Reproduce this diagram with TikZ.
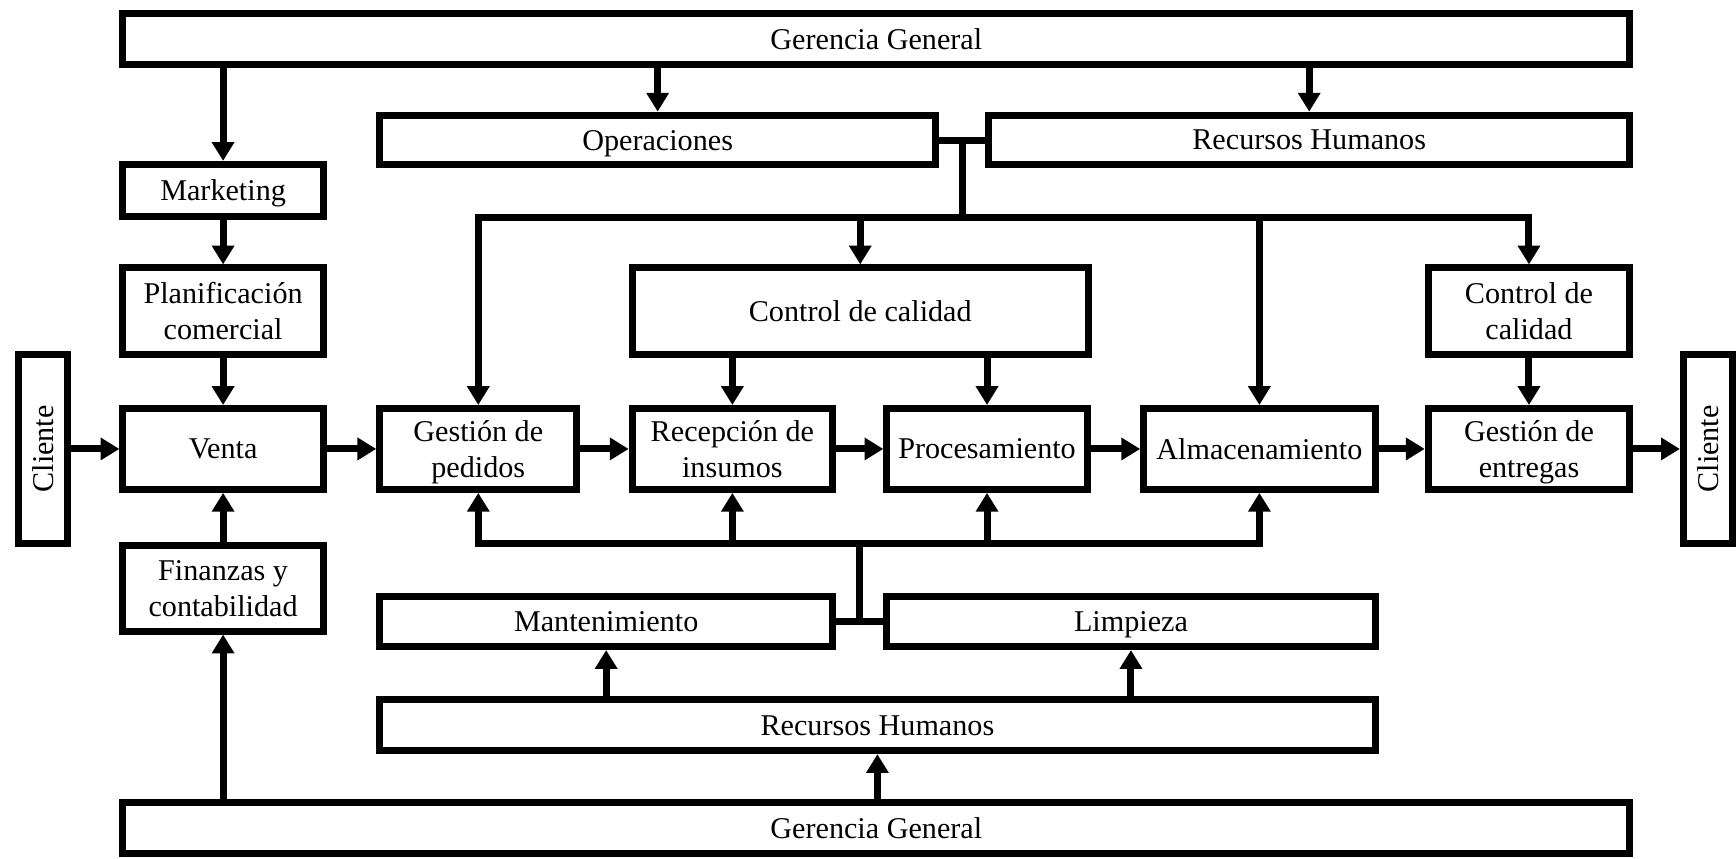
\documentclass[tikz,border=0pt]{standalone}
\usepackage{fontspec}
\setmainfont{Liberation Serif}
\usepackage{graphicx}
\usepackage{tikz}
\usetikzlibrary{calc}
\usetikzlibrary{arrows.meta}

\begin{document}
\begin{tikzpicture}[x=0.2mm, y=-0.2mm,
  blk/.style 2 args={draw, line width=3.6pt, minimum width=#1*0.2mm, minimum height=#2*0.2mm, inner sep=0pt, align=center, text depth=0pt, font=\fontsize{15.5}{18.6}\selectfont},
  arr/.style={line width=3.6pt, -{Triangle[length=3.4mm, width=3.9mm]}},
  lnk/.style={line width=3.6pt}]
\useasboundingbox (0,0) rectangle (1568,775);

% direccion
\node[blk={1361}{46}] (ggTop) at (791.5,35) {Gerencia General};
\node[blk={502}{45}] (oper) at (594,126.5) {Operaciones};
\node[blk={579}{45}] (rrhhTop) at (1182.5,126.5) {Recursos Humanos};

% columna comercial
\node[blk={181}{47}] (mkt) at (201.5,172) {Marketing};
\node[blk={181}{78}] (plan) at (201.5,281) {Planificación\\comercial};
\node[blk={181}{73}] (venta) at (201.5,405.5) {Venta};
\node[blk={181}{77}] (fin) at (201.5,531.5) {Finanzas y\\contabilidad};
\node[blk={44}{170}] (cliL) at (39,405.5) {\rotatebox{90}{Cliente}};
\node[blk={44}{170}] (cliR) at (1542.5,405.5) {\rotatebox{90}{Cliente}};

% proceso
\node[blk={412}{78}] (cdc) at (777,281) {Control de calidad};
\node[blk={182}{78}] (cdc2) at (1381,281) {Control de\\calidad};
\node[blk={178}{73}] (gped) at (432,405.5) {Gestión de\\pedidos};
\node[blk={181}{73}] (rec) at (661.5,405.5) {Recepción de\\insumos};
\node[blk={181}{73}] (proc) at (891.5,405.5) {Procesamiento};
\node[blk={209}{73}] (alm) at (1137.5,405.5) {Almacenamiento};
\node[blk={182}{73}] (gent) at (1381,405.5) {Gestión de\\entregas};

% apoyo
\node[blk={409}{45}] (mant) at (547.5,561.5) {Mantenimiento};
\node[blk={441}{45}] (limp) at (1021.5,561.5) {Limpieza};
\node[blk={899}{46}] (rrhhBot) at (792.5,655) {Recursos Humanos};
\node[blk={1361}{46}] (ggBot) at (791.5,747.5) {Gerencia General};

% flujo principal
\foreach \a/\b in {cliL/venta, venta/gped, gped/rec, rec/proc, proc/alm, alm/gent, gent/cliR}
  \draw[arr] (\a) -- (\b);
\foreach \a/\b in {mkt/plan, plan/venta, fin/venta} \draw[arr] (\a) -- (\b);

\foreach \n in {mkt, oper, rrhhTop} \draw[arr] (ggTop.south -| \n) -- (\n);
\foreach \n in {fin, rrhhBot} \draw[arr] (ggBot.north -| \n) -- (\n);
\foreach \n in {rec, proc} \draw[arr] (cdc.south -| \n) -- (\n);
\draw[arr] (cdc2) -- (gent);
\foreach \n in {mant, limp} \draw[arr] (rrhhBot.north -| \n) -- (\n);

% bus superior
\draw[lnk] (oper) -- (rrhhTop);
\coordinate (jt) at ($(oper.east)!.5!(rrhhTop.west)$);
\path (jt) ++(0,70) coordinate (busT);
\draw[lnk] (jt) -- (busT);
\draw[arr] (busT) -| (gped);
\draw[arr] (busT) -| (cdc2);
\foreach \n in {cdc, alm} \draw[arr] (busT -| \n) -- (\n);

% bus inferior
\draw[lnk] (mant) -- (limp);
\coordinate (jb) at ($(mant.east)!.5!(limp.west)$);
\path (jb) ++(0,-71) coordinate (busB);
\draw[lnk] (jb) -- (busB);
\draw[arr] (busB) -| (gped);
\draw[arr] (busB) -| (alm);
\foreach \n in {rec, proc} \draw[arr] (busB -| \n) -- (\n);

\end{tikzpicture}
\end{document}
